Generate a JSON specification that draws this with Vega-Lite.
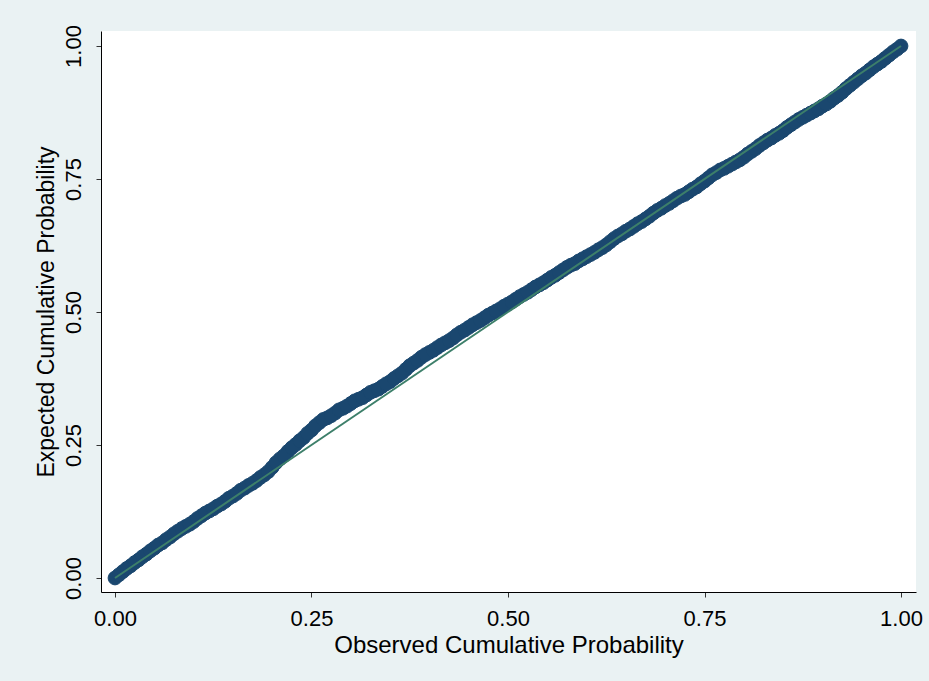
{
  "$schema": "https://vega.github.io/schema/vega-lite/v6.json",
  "width": 815,
  "height": 561,
  "autosize": {"type": "none"},
  "padding": {"left": 101, "top": 31, "right": 13, "bottom": 89},
  "background": "#eaf2f3",
  "config": {
    "view": {"stroke": null, "fill": "white"},
    "font": "Liberation Sans",
    "axis": {
      "grid": false,
      "domainColor": "#000000",
      "domainWidth": 1,
      "tickColor": "#333333",
      "tickSize": 5,
      "tickWidth": 1,
      "labelFont": "Liberation Sans",
      "labelFontSize": 22,
      "labelColor": "#000000",
      "labelPadding": 11,
      "titleFont": "Liberation Sans",
      "titleFontSize": 23,
      "titleFontWeight": "normal",
      "titleColor": "#000000"
    }
  },
  "datasets": {
    "pp": [
      {"x":0.00,"y":0.000},{"x":0.01,"y":0.012},{"x":0.02,"y":0.023},{"x":0.03,"y":0.034},{"x":0.04,"y":0.045},
      {"x":0.05,"y":0.056},{"x":0.06,"y":0.066},{"x":0.07,"y":0.077},{"x":0.08,"y":0.088},{"x":0.09,"y":0.097},
      {"x":0.10,"y":0.106},{"x":0.11,"y":0.117},{"x":0.12,"y":0.126},{"x":0.13,"y":0.135},{"x":0.14,"y":0.144},
      {"x":0.15,"y":0.154},{"x":0.16,"y":0.165},{"x":0.17,"y":0.174},{"x":0.18,"y":0.183},{"x":0.19,"y":0.194},
      {"x":0.20,"y":0.208},{"x":0.21,"y":0.224},{"x":0.22,"y":0.238},{"x":0.23,"y":0.251},{"x":0.24,"y":0.264},
      {"x":0.25,"y":0.278},{"x":0.26,"y":0.292},{"x":0.27,"y":0.301},{"x":0.28,"y":0.310},{"x":0.29,"y":0.319},
      {"x":0.30,"y":0.328},{"x":0.31,"y":0.336},{"x":0.32,"y":0.344},{"x":0.33,"y":0.352},{"x":0.34,"y":0.360},
      {"x":0.35,"y":0.369},{"x":0.36,"y":0.380},{"x":0.37,"y":0.392},{"x":0.38,"y":0.404},{"x":0.39,"y":0.415},
      {"x":0.40,"y":0.424},{"x":0.41,"y":0.433},{"x":0.42,"y":0.442},{"x":0.43,"y":0.451},{"x":0.44,"y":0.462},
      {"x":0.45,"y":0.471},{"x":0.46,"y":0.480},{"x":0.47,"y":0.489},{"x":0.48,"y":0.498},{"x":0.49,"y":0.506},
      {"x":0.50,"y":0.515},{"x":0.51,"y":0.524},{"x":0.52,"y":0.533},{"x":0.53,"y":0.542},{"x":0.54,"y":0.551},
      {"x":0.55,"y":0.560},{"x":0.56,"y":0.569},{"x":0.57,"y":0.579},{"x":0.58,"y":0.588},{"x":0.59,"y":0.596},
      {"x":0.60,"y":0.604},{"x":0.61,"y":0.612},{"x":0.62,"y":0.621},{"x":0.63,"y":0.632},{"x":0.64,"y":0.643},
      {"x":0.65,"y":0.652},{"x":0.66,"y":0.661},{"x":0.67,"y":0.670},{"x":0.68,"y":0.680},{"x":0.69,"y":0.691},
      {"x":0.70,"y":0.700},{"x":0.71,"y":0.709},{"x":0.72,"y":0.718},{"x":0.73,"y":0.726},{"x":0.74,"y":0.735},
      {"x":0.75,"y":0.746},{"x":0.76,"y":0.758},{"x":0.77,"y":0.767},{"x":0.78,"y":0.774},{"x":0.79,"y":0.782},
      {"x":0.80,"y":0.791},{"x":0.81,"y":0.802},{"x":0.82,"y":0.813},{"x":0.83,"y":0.823},{"x":0.84,"y":0.832},
      {"x":0.85,"y":0.841},{"x":0.86,"y":0.852},{"x":0.87,"y":0.862},{"x":0.88,"y":0.870},{"x":0.89,"y":0.878},
      {"x":0.90,"y":0.887},{"x":0.91,"y":0.896},{"x":0.92,"y":0.907},{"x":0.93,"y":0.920},{"x":0.94,"y":0.932},
      {"x":0.95,"y":0.944},{"x":0.96,"y":0.955},{"x":0.97,"y":0.966},{"x":0.98,"y":0.977},{"x":0.99,"y":0.989},
      {"x":1.00,"y":1.000},
      {"x":0.005,"y":0.006},{"x":0.015,"y":0.018},{"x":0.025,"y":0.029},{"x":0.035,"y":0.040},{"x":0.045,"y":0.051},
      {"x":0.055,"y":0.062},{"x":0.065,"y":0.072},{"x":0.075,"y":0.083},{"x":0.085,"y":0.093},{"x":0.095,"y":0.101},
      {"x":0.105,"y":0.112},{"x":0.115,"y":0.122},{"x":0.125,"y":0.130},{"x":0.135,"y":0.139},{"x":0.145,"y":0.150},
      {"x":0.155,"y":0.159},{"x":0.165,"y":0.169},{"x":0.175,"y":0.178},{"x":0.185,"y":0.189},{"x":0.195,"y":0.200},
      {"x":0.205,"y":0.217},{"x":0.215,"y":0.230},{"x":0.225,"y":0.245},{"x":0.235,"y":0.258},{"x":0.245,"y":0.272},
      {"x":0.255,"y":0.286},{"x":0.265,"y":0.298},{"x":0.275,"y":0.305},{"x":0.285,"y":0.316},{"x":0.295,"y":0.323},
      {"x":0.305,"y":0.333},{"x":0.315,"y":0.339},{"x":0.325,"y":0.349},{"x":0.335,"y":0.355},{"x":0.345,"y":0.365},
      {"x":0.355,"y":0.375},{"x":0.365,"y":0.385},{"x":0.375,"y":0.399},{"x":0.385,"y":0.409},{"x":0.395,"y":0.420},
      {"x":0.405,"y":0.428},{"x":0.415,"y":0.438},{"x":0.425,"y":0.446},{"x":0.435,"y":0.457},{"x":0.445,"y":0.466},
      {"x":0.455,"y":0.476},{"x":0.465,"y":0.484},{"x":0.475,"y":0.494},{"x":0.485,"y":0.502},{"x":0.495,"y":0.511},
      {"x":0.505,"y":0.519},{"x":0.515,"y":0.529},{"x":0.525,"y":0.537},{"x":0.535,"y":0.547},{"x":0.545,"y":0.555},
      {"x":0.555,"y":0.565},{"x":0.565,"y":0.574},{"x":0.575,"y":0.584},{"x":0.585,"y":0.591},{"x":0.595,"y":0.600},
      {"x":0.605,"y":0.608},{"x":0.615,"y":0.617},{"x":0.625,"y":0.626},{"x":0.635,"y":0.638},{"x":0.645,"y":0.647},
      {"x":0.655,"y":0.656},{"x":0.665,"y":0.666},{"x":0.675,"y":0.675},{"x":0.685,"y":0.686},{"x":0.695,"y":0.695},
      {"x":0.705,"y":0.704},{"x":0.715,"y":0.714},{"x":0.725,"y":0.721},{"x":0.735,"y":0.731},{"x":0.745,"y":0.741},
      {"x":0.755,"y":0.752},{"x":0.765,"y":0.762},{"x":0.775,"y":0.770},{"x":0.785,"y":0.778},{"x":0.795,"y":0.786},
      {"x":0.805,"y":0.797},{"x":0.815,"y":0.807},{"x":0.825,"y":0.818},{"x":0.835,"y":0.827},{"x":0.845,"y":0.836},
      {"x":0.855,"y":0.847},{"x":0.865,"y":0.857},{"x":0.875,"y":0.866},{"x":0.885,"y":0.874},{"x":0.895,"y":0.882},
      {"x":0.905,"y":0.891},{"x":0.915,"y":0.902},{"x":0.925,"y":0.913},{"x":0.935,"y":0.926},{"x":0.945,"y":0.938},
      {"x":0.955,"y":0.949},{"x":0.965,"y":0.961},{"x":0.975,"y":0.971},{"x":0.985,"y":0.983},{"x":0.995,"y":0.994}
    ],
    "ref": [{"x":0,"y":0},{"x":1,"y":1}]
  },
  "layer": [
    {
      "data": {"name": "pp"},
      "mark": {"type": "circle", "size": 190, "color": "#1a476f", "opacity": 1, "stroke": "#1a476f", "strokeWidth": 1},
      "encoding": {
        "x": {"field": "x", "type": "quantitative", "scale": {"domain": [-0.01781, 1.01908], "nice": false, "zero": false},
              "axis": {"values": [0, 0.25, 0.5, 0.75, 1], "format": ".2f", "title": "Observed Cumulative Probability", "titlePadding": 4, "titleFontSize": 24}},
        "y": {"field": "y", "type": "quantitative", "scale": {"domain": [-0.02632, 1.0282], "nice": false, "zero": false},
              "axis": {"values": [0, 0.25, 0.5, 0.75, 1], "format": ".2f", "labelAngle": 270, "title": "Expected Cumulative Probability", "titlePadding": 4}}
      }
    },
    {
      "data": {"name": "ref"},
      "mark": {"type": "line", "color": "#3d7f6a", "strokeWidth": 2},
      "encoding": {
        "x": {"field": "x", "type": "quantitative"},
        "y": {"field": "y", "type": "quantitative"}
      }
    }
  ]
}
